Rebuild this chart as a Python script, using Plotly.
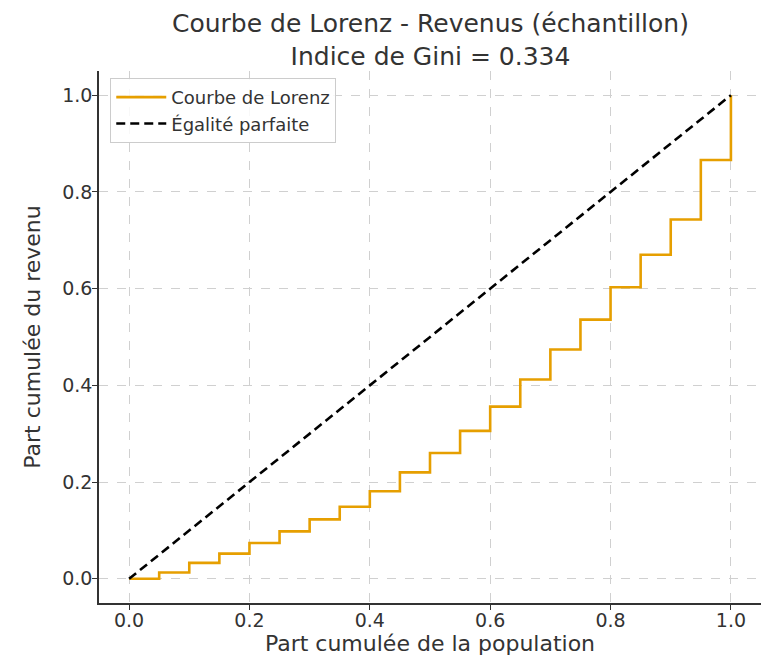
import plotly.graph_objects as go

# Data
population_share = [0.00, 0.05, 0.10, 0.15, 0.20, 0.25, 0.30, 0.35, 0.40, 0.45, 0.50,
                     0.55, 0.60, 0.65, 0.70, 0.75, 0.80, 0.85, 0.90, 0.95, 1.00]
income_share = [0.000, 0.013, 0.033, 0.052, 0.074, 0.098, 0.123, 0.149, 0.181, 0.220, 0.260,
                0.306, 0.356, 0.412, 0.474, 0.536, 0.603, 0.670, 0.743, 0.866, 1.000]
equality_x = [0.0, 1.0]
equality_y = [0.0, 1.0]
tick_vals = [0.0, 0.2, 0.4, 0.6, 0.8, 1.0]
tick_text = ["0.0", "0.2", "0.4", "0.6", "0.8", "1.0"]

title_line1 = "Courbe de Lorenz - Revenus (échantillon)"
title_line2 = "Indice de Gini = 0.334"

FONT = "DejaVu Sans"
TXT = "#333333"

fig = go.Figure()
fig.add_trace(go.Scatter(
    x=population_share, y=income_share, mode="lines", line_shape="hv",
    name="Courbe de Lorenz", line=dict(color="#E69F00", width=2.6),
))
fig.add_trace(go.Scatter(
    x=equality_x, y=equality_y, mode="lines",
    name="Égalité parfaite", line=dict(color="black", width=2.6, dash="9px,5px"),
))

axis_common = dict(
    range=[-0.05, 1.05], tickvals=tick_vals, ticktext=tick_text,
    showgrid=True, gridcolor="#d0d0d0", griddash="dash", gridwidth=1,
    zeroline=False, showline=True, linecolor="#333333", linewidth=1.6,
    ticks="outside", ticklen=5, tickwidth=1.2, tickcolor="#333333",
    tickfont=dict(family=FONT, size=19, color=TXT), mirror=False,
    automargin=False,
)

fig.update_xaxes(**axis_common, ticklabelstandoff=-6,
                 title=dict(text="Part cumulée de la population",
                            font=dict(family=FONT, size=22, color=TXT), standoff=6))
fig.update_yaxes(**axis_common, ticklabelstandoff=-4,
                 title=dict(text="Part cumulée du revenu",
                            font=dict(family=FONT, size=22, color=TXT), standoff=15))

# The page body adds an 8 px offset, so the figure is shrunk to fit the window
fig.update_layout(
    width=763, height=653,
    margin=dict(l=91, r=10, t=63, b=58),
    plot_bgcolor="white", paper_bgcolor="white",
    font=dict(family=FONT, color=TXT),
    showlegend=True,
    legend=dict(
        x=0.017, y=0.987, xanchor="left", yanchor="top",
        bgcolor="rgba(255,255,255,0.85)", bordercolor="#cccccc", borderwidth=1,
        font=dict(family=FONT, size=18, color=TXT),
        tracegroupgap=0, itemwidth=50,
    ),
    annotations=[
        dict(text=title_line1 + "<br>" + title_line2, xref="paper", yref="paper",
             x=0.5, y=1.058, xanchor="center", yanchor="middle", showarrow=False,
             borderpad=0, font=dict(family=FONT, size=25, color=TXT)),
    ],
)

fig.write_html("out.html")
